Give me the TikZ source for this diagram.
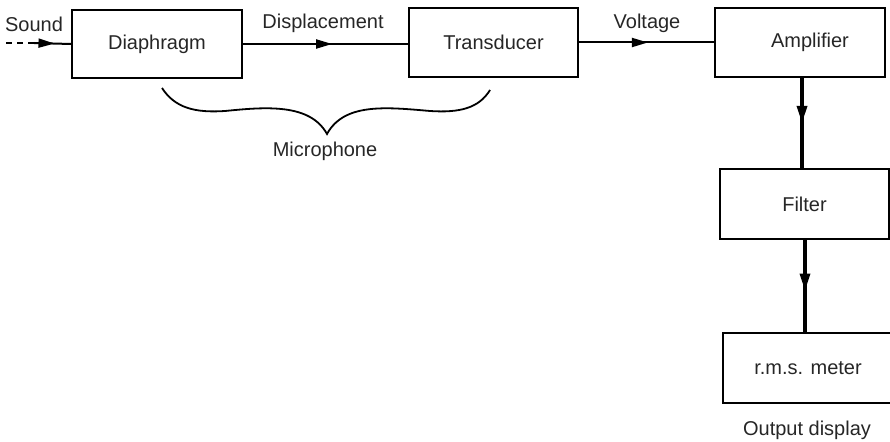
\documentclass[tikz,border=0pt]{standalone}
\usepackage{fontspec}
\setmainfont{Liberation Sans}
\usetikzlibrary{arrows.meta,decorations.markings}
\begin{document}
\begin{tikzpicture}[x=1pt,y=-1pt,
  font=\fontsize{20}{23}\selectfont,
  every node/.style={text=black!85},
  blk/.style={draw=black,line width=1.6pt,inner sep=0pt},
  lbl/.style={anchor=base},
  flow/.style={line width=2pt,postaction={decorate},decoration={markings,mark=at position #1 with {\arrow{Triangle[length=16pt,width=9pt]}}}},
  vflow/.style={line width=3.2pt,postaction={decorate},decoration={markings,mark=at position #1 with {\arrow{Triangle[length=17pt,width=10pt]}}}}
]
\useasboundingbox (0,0) rectangle (890,441);
\begin{scope}
\clip (0,0) rectangle (890,441);
\node[blk,minimum width=170pt,minimum height=68pt] (dia) at (157,44) {Diaphragm};
\node[blk,minimum width=169pt,minimum height=69pt] (tra) at (493.5,42.5) {Transducer};
\node[blk,minimum width=170pt,minimum height=69pt] (amp) at (800,42.5) {\hspace*{20pt}Amplifier};
\node[blk,minimum width=169pt,minimum height=70pt] (fil) at (804.5,204) {Filter};
\node[blk,minimum width=170pt,minimum height=70pt] (rms) at (808,368) {r.m.s. meter};
\end{scope}

\coordinate (s0) at (6,43);
\coordinate (s1) at (34,43);
\draw[line width=1.6pt,dash pattern=on 6pt off 5pt] (s0) -- (s1);
\draw[flow=0.55] (s1) -- (dia.west);
\draw[flow=0.54] (dia.east) -- (tra.west |- dia.east);
\draw[flow=0.51] (tra.east) -- (amp.west |- tra.east);
\draw[vflow=0.5] (amp.south -| 802,0) -- (fil.north -| 802,0);
\draw[vflow=0.55] (fil.south -| 805,0) -- (rms.north -| 805,0);

\node[lbl] (snd) at (34,32) {Sound};
\node[lbl] (dis) at (323,29) {Displacement};
\node[lbl] (vol) at (647,29) {Voltage};
\node[lbl] (mic) at (325,156) {Microphone};
\node[lbl] (out) at (807,435) {Output display};

\coordinate (bl) at (162,88);
\coordinate (bt) at (327,134);
\coordinate (br) at (490,90);
\draw[line width=1.8pt] (bl) .. controls (175,108) and (195,113) .. (225,111)
  .. controls (265,107) and (310,103) .. (bt)
  .. controls (344,103) and (385,107) .. (430,111)
  .. controls (460,113) and (479,108) .. (br);
\end{tikzpicture}
\end{document}
